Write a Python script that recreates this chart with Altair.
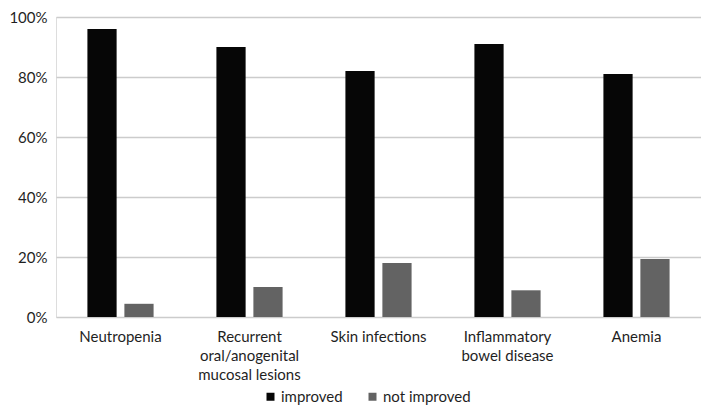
import altair as alt
import pandas as pd

categories = [
    "Neutropenia",
    "Recurrent oral/anogenital mucosal lesions",
    "Skin infections",
    "Inflammatory bowel disease",
    "Anemia",
]
label_lines = [
    ["Neutropenia"],
    ["Recurrent", "oral/anogenital", "mucosal lesions"],
    ["Skin infections"],
    ["Inflammatory", "bowel disease"],
    ["Anemia"],
]
series = ["improved", "not improved"]
improved = [0.96, 0.90, 0.82, 0.91, 0.81]
not_improved = [0.044, 0.10, 0.18, 0.089, 0.193]
colors = ["#060606", "#636363"]
y_ticks = [0, 0.2, 0.4, 0.6, 0.8, 1.0]

rows = []
for c, a, b in zip(categories, improved, not_improved):
    rows.append({"category": c, "series": series[0], "value": a})
    rows.append({"category": c, "series": series[1], "value": b})
df = pd.DataFrame(rows)

# label expression producing multi-line labels
expr = "''"
for c, lines in reversed(list(zip(categories, label_lines))):
    arr = "[" + ",".join("'" + l + "'" for l in lines) + "]"
    expr = f"datum.label == '{c}' ? {arr} : ({expr})"

FONT = "Lato"
TEXT = "#1f1f1f"

chart = (
    alt.Chart(df)
    .mark_bar()
    .encode(
        x=alt.X(
            "category:N",
            sort=categories,
            title=None,
            scale=alt.Scale(paddingInner=0.487, paddingOuter=0.2435),
            axis=alt.Axis(
                labelExpr=expr,
                labelAngle=0,
                labelPadding=12,
                labelLineHeight=19,
                labelFontSize=15,
                labelColor=TEXT,
                labelFont=FONT,
                labelBaseline="top",
                ticks=False,
                domain=False,
                labelLimit=200,
            ),
        ),
        xOffset=alt.XOffset("series:N", sort=series, scale=alt.Scale(paddingInner=0.21)),
        y=alt.Y(
            "value:Q",
            title=None,
            scale=alt.Scale(domain=[0, 1], nice=False),
            axis=alt.Axis(
                values=y_ticks,
                format=".0%",
                ticks=False,
                domain=False,
                labelPadding=9,
                labelFontSize=15,
                labelColor=TEXT,
                labelFont=FONT,
                gridColor="#cccccc",
                gridWidth=1.3,
            ),
        ),
        color=alt.Color(
            "series:N",
            sort=series,
            scale=alt.Scale(domain=series, range=colors),
            legend=alt.Legend(
                title=None,
                orient="none",
                direction="horizontal",
                legendX=207,
                legendY=372,
                symbolType="square",
                symbolSize=64,
                symbolStrokeWidth=0,
                labelFontSize=15,
                labelFont=FONT,
                labelColor=TEXT,
                columnPadding=22,
                labelOffset=3,
            ),
        ),
    )
    .properties(
        width=645,
        height=300,
        autosize=alt.AutoSizeParams(type="none"),
        padding={"left": 48, "top": 9, "right": 0, "bottom": 92},
    )
    .configure_view(stroke=None)
    .configure(background="white")
)

chart.save("out.html", embed_options={"renderer": "svg", "actions": False})
